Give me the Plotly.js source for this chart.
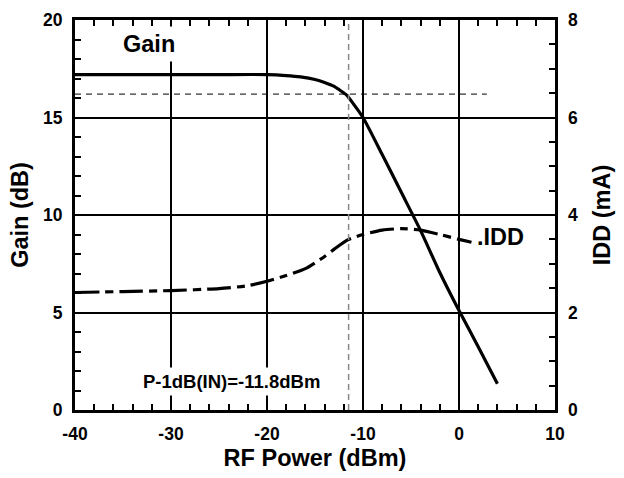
<!DOCTYPE html>
<html>
<head>
<meta charset="utf-8">
<script src="https://cdn.plot.ly/plotly-3.0.1.min.js"></script>
<style>html,body{margin:0;padding:0;background:#fff;}#chart{width:624px;height:478px;}</style>
</head>
<body>
<div id="chart"></div>
<script>
// RF input power (dBm) for the gain curve
const gainX = [-40, -35, -30, -25, -20, -18, -16.5, -15, -14, -13, -12.4, -11.7, -11, -10, -8, -6, -4, -2, 0, 2, 4];
// Gain (dB)
const gainY = [17.2, 17.2, 17.2, 17.2, 17.2, 17.15, 17.08, 16.95, 16.8, 16.6, 16.4, 16.15, 15.7, 15.0, 13.1, 11.15, 9.2, 7.05, 5.1, 3.25, 1.35];
// RF input power (dBm) for the IDD curve
const iddX = [-40, -35, -30, -25, -22, -20, -18, -16, -14, -13, -11.6, -10, -8, -6, -4, -2, 0, 1.3];
// IDD (mA)
const iddY = [2.41, 2.43, 2.45, 2.49, 2.55, 2.64, 2.76, 2.9, 3.15, 3.3, 3.49, 3.6, 3.69, 3.72, 3.69, 3.6, 3.5, 3.44];
// reference lines
const p1dbX = -11.5;          // P-1dB input power marker (dBm)
const gainRefY = 16.2;        // gain - 1 dB level (dB)
const gainRefXEnd = 2.9;
// tick labels / ranges
const xTicks = [-40, -30, -20, -10, 0, 10];
const gainTicks = [0, 5, 10, 15, 20];
const iddTicks = [0, 2, 4, 6, 8];

const FONT = 'Liberation Sans, Arial, Helvetica, sans-serif';
const tickFont = {family: FONT, size: 17.5, color: '#000', weight: 700};
const titleFont = {family: FONT, size: 23.5, color: '#000', weight: 700};

const traces = [
  {x: gainX, y: gainY, type: 'scatter', mode: 'lines', line: {color: '#000', width: 3.2, shape: 'spline', smoothing: 0.6}, yaxis: 'y', hoverinfo: 'skip'},
  {x: iddX, y: iddY, type: 'scatter', mode: 'lines', line: {color: '#000', width: 3.2, shape: 'spline', smoothing: 0.6, dash: '24px,6px,8px,6px'}, yaxis: 'y2', hoverinfo: 'skip'}
];

const layout = {
  width: 624, height: 478,
  margin: {l: 75, r: 69, t: 20, b: 68},
  paper_bgcolor: '#fff', plot_bgcolor: '#fff',
  showlegend: false,
  font: {family: FONT, color: '#000'},
  xaxis: {
    range: [-40, 10], tickvals: xTicks, ticktext: xTicks.map(String),
    showline: true, linewidth: 3, linecolor: '#000', mirror: 'ticks',
    showgrid: true, gridcolor: '#000', gridwidth: 2, zeroline: false,
    ticks: 'inside', ticklen: 0, tickwidth: 2, tickcolor: '#000', ticklabelstandoff: 6,
    minor: {dtick: 2, ticks: 'inside', ticklen: 6, tickwidth: 2, tickcolor: '#000', showgrid: false},
    tickfont: tickFont,
    title: {text: 'RF Power (dBm)', font: titleFont, standoff: 7}
  },
  yaxis: {
    range: [0, 20], tickvals: gainTicks, ticktext: gainTicks.map(String),
    showline: true, linewidth: 3, linecolor: '#000', mirror: true,
    showgrid: true, gridcolor: '#000', gridwidth: 2, zeroline: false,
    ticks: 'inside', ticklen: 0, tickwidth: 2, tickcolor: '#000', ticklabelstandoff: 6,
    minor: {dtick: 1, ticks: 'inside', ticklen: 6, tickwidth: 2, tickcolor: '#000', showgrid: false},
    tickfont: tickFont,
    title: {text: 'Gain (dB)', font: titleFont, standoff: 8}
  },
  yaxis2: {
    range: [0, 8], tickvals: iddTicks, ticktext: iddTicks.map(String),
    overlaying: 'y', side: 'right', anchor: 'x',
    showline: false, showgrid: false, zeroline: false,
    ticks: 'inside', ticklen: 0, tickwidth: 2, tickcolor: '#000', ticklabelstandoff: 12,
    minor: {dtick: 0.5, ticks: 'inside', ticklen: 6, tickwidth: 2, tickcolor: '#000', showgrid: false},
    tickfont: tickFont,
    title: {text: 'IDD (mA)', font: titleFont, standoff: 16}
  },
  shapes: [
    {type: 'line', xref: 'x', yref: 'paper', x0: p1dbX, x1: p1dbX, y0: 0, y1: 1, line: {color: '#888', width: 1.5, dash: '6px,4px'}},
    {type: 'line', xref: 'x', yref: 'y', x0: -40, x1: gainRefXEnd, y0: gainRefY, y1: gainRefY, line: {color: '#000', width: 1, dash: '6px,5px'}}
  ],
  annotations: [
    {x: -32.3, y: 18.77, xref: 'x', yref: 'y', text: 'Gain', showarrow: false, bgcolor: '#fff', borderpad: 4, font: {family: FONT, size: 23.5, color: '#000', weight: 700}},
    {x: 1.7, y: 8.87, xref: 'x', yref: 'y', text: '.IDD', xanchor: 'left', showarrow: false, font: {family: FONT, size: 23.5, color: '#000', weight: 700}},
    {x: -23.7, y: 1.46, xref: 'x', yref: 'y', text: 'P-1dB(IN)=-11.8dBm', showarrow: false, bgcolor: '#fff', borderpad: 3, font: {family: FONT, size: 18.5, color: '#000', weight: 700}}
  ]
};

Plotly.newPlot('chart', traces, layout, {staticPlot: true, displayModeBar: false});
</script>
</body>
</html>
